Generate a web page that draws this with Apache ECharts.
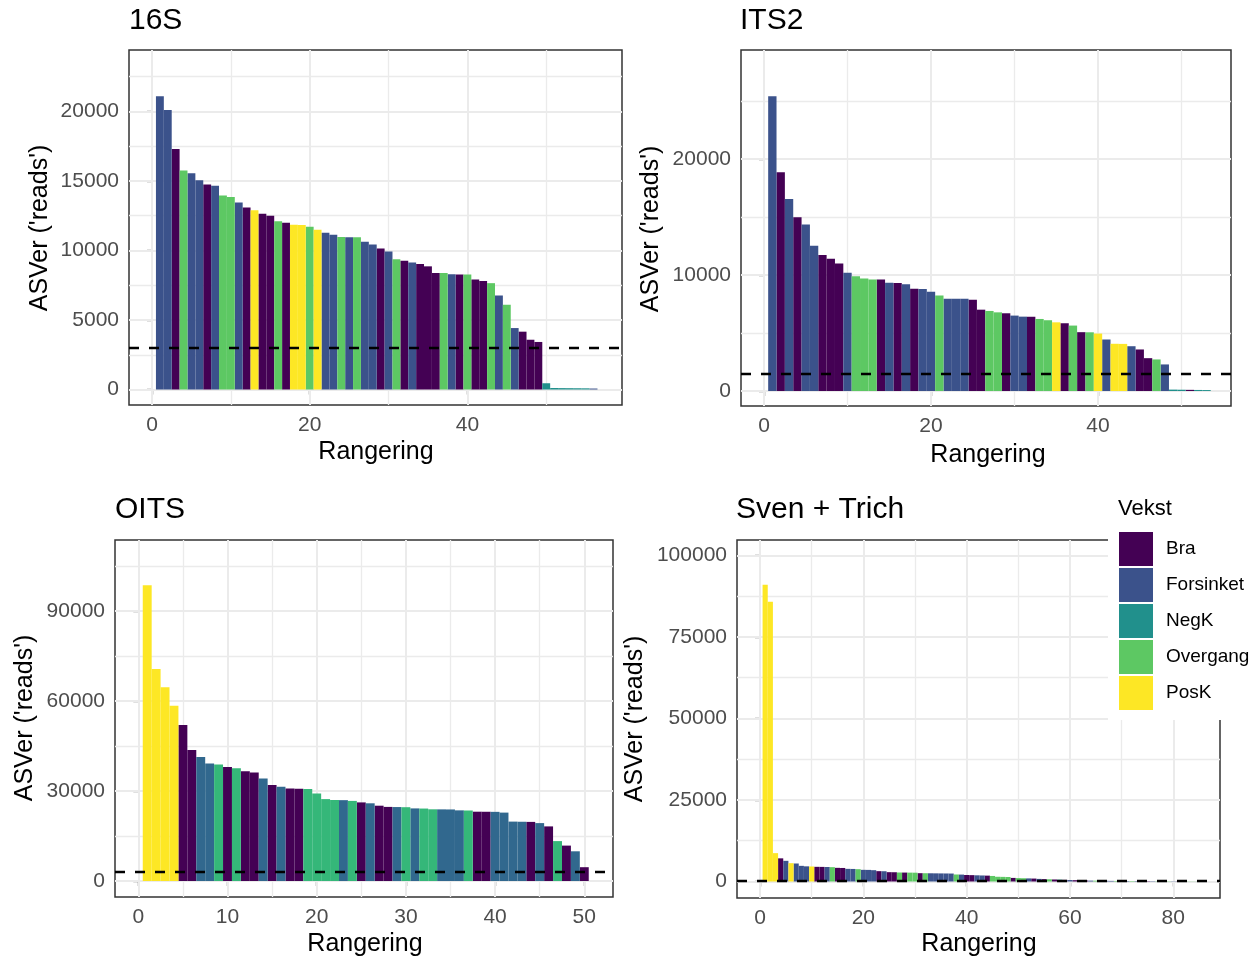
<!DOCTYPE html>
<html><head><meta charset="utf-8">
<script src="https://cdn.jsdelivr.net/npm/echarts@6/dist/echarts.min.js"></script>
<style>html,body{margin:0;padding:0;background:#fff}#c{width:1258px;height:959px}</style>
</head><body><div id="c"></div>
<script>
// ---------- data ----------
const groupNames = ['Bra', 'Forsinket', 'NegK', 'Overgang', 'PosK'];
const groupCodes = ['B', 'F', 'N', 'O', 'P'];
const viridis5 = ['#440154', '#3B528B', '#21908C', '#5DC863', '#FDE725'];
const viridis4 = ['#440154', '#31688E', '#21908C', '#35B779', '#FDE725'];

const s16_values = [21100, 20100, 17300, 15750, 15550, 15050, 14750, 14650, 13950, 13850,
  13450, 13100, 12900, 12650, 12500, 12100, 12000, 11850, 11830, 11700,
  11500, 11280, 11130, 10970, 10960, 10950, 10630, 10430, 10150, 9920,
  9370, 9270, 9130, 9030, 8860, 8390, 8380, 8290, 8280, 8270,
  7910, 7810, 7650, 6760, 6090, 4420, 4160, 3580, 3420, 450,
  110, 100, 95, 90, 85, 70];
const s16_groups = ['F','F','B','O','F','F','B','F','O','O',
  'F','B','P','B','B','O','B','P','P','O',
  'P','F','F','O','F','O','F','F','B','F',
  'O','B','F','B','B','B','O','F','B','O',
  'B','B','O','F','O','F','B','B','B','N',
  'N','N','N','N','N','F'];
const s16_threshold = 3000;
const s16_xTicks = [0, 20, 40];
const s16_xMinor = [10, 30, 50];
const s16_yTicks = [0, 5000, 10000, 15000, 20000];
const s16_yMinor = [2500, 7500, 12500, 17500, 22500];

const its2_values = [25400, 18850, 16540, 14970, 14360, 12530, 11730, 11390, 10990, 10190,
  9900, 9700, 9620, 9610, 9330, 9320, 9210, 8810, 8800, 8560,
  8240, 7960, 7955, 7950, 7870, 7010, 6900, 6780, 6700, 6500,
  6410, 6400, 6210, 6100, 5920, 5840, 5640, 5070, 5060, 4950,
  4440, 4070, 4060, 3860, 3580, 2830, 2720, 2290, 120, 110,
  100, 90, 80];
const its2_groups = ['F','B','F','B','F','F','B','B','B','F',
  'O','O','O','B','F','B','F','B','F','F',
  'O','F','F','F','B','B','O','O','B','F',
  'F','B','O','O','P','B','O','B','O','P',
  'F','P','P','F','B','B','O','F','N','N',
  'B','N','N'];
const its2_threshold = 1500;
const its2_xTicks = [0, 20, 40];
const its2_xMinor = [10, 30, 50];
const its2_yTicks = [0, 10000, 20000];
const its2_yMinor = [5000, 15000, 25000];

const oits_values = [98600, 70700, 64600, 58400, 52000, 43700, 41300, 39200, 38800, 38000,
  37600, 36600, 36200, 34200, 32000, 31400, 30800, 30750, 30700, 29200,
  27300, 27000, 26950, 26700, 26200, 25900, 25100, 24700, 24650, 24600,
  24200, 24150, 23900, 23880, 23850, 23550, 23500, 23100, 23080, 23050,
  22800, 19800, 19750, 19700, 19300, 18200, 13300, 11800, 9900, 4600];
const oits_groups = ['P','P','P','P','B','B','F','F','O','B',
  'O','B','B','F','B','F','B','B','O','O',
  'O','O','F','O','B','F','B','B','F','O',
  'F','O','O','F','F','F','O','B','B','F',
  'F','F','F','B','F','B','O','B','F','B'];
const oits_threshold = 3000;
const oits_xTicks = [0, 10, 20, 30, 40, 50];
const oits_xMinor = [5, 15, 25, 35, 45];
const oits_yTicks = [0, 30000, 60000, 90000];
const oits_yMinor = [15000, 45000, 75000, 105000];

const sven_values = [91000, 85800, 8700, 7100, 6340, 5620, 5520, 4800, 4650, 4600,
  4500, 4480, 4450, 4400, 4190, 4150, 3880, 3850, 3780, 3580,
  3560, 3470, 3170, 3150, 2860, 2840, 2760, 2740, 2720, 2700,
  2550, 2540, 2520, 2500, 2480, 2460, 2440, 2150, 2120, 2000,
  1950, 1900, 1850, 1800, 1700, 1450, 1420, 1380, 1100, 1050,
  1000, 950, 900, 800, 720, 680, 620, 560, 500, 450,
  400, 350, 300, 270, 250, 230, 210, 190, 170, 160,
  150, 140, 130, 120, 110, 100, 90, 85, 80, 70,
  60, 50, 45, 40, 30];
const sven_groups = ['P','P','P','B','F','P','F','F','F','P',
  'B','B','F','O','B','B','F','F','O','F',
  'F','F','B','F','B','B','O','B','O','O',
  'B','O','F','F','F','F','F','O','F','B',
  'B','F','F','B','O','O','O','O','B','O',
  'O','F','B','F','B','O','B','N','B','F',
  'B','B','B','F','O','B','F','F','O','B',
  'F','O','F','B','B','F','O','O','O','F',
  'B','F','O','O','B'];
const sven_threshold = 300;
const sven_xTicks = [0, 20, 40, 60, 80];
const sven_xMinor = [10, 30, 50, 70];
const sven_yTicks = [0, 25000, 50000, 75000, 100000];
const sven_yMinor = [12500, 37500, 62500, 87500];

// ---------- layout ----------
const FONT = '"Liberation Sans", Arial, Helvetica, sans-serif';
const panels = [
  { title: '16S', values: s16_values, groups: s16_groups, threshold: s16_threshold, colors: viridis5,
    xTicks: s16_xTicks, xMinor: s16_xMinor, yTicks: s16_yTicks, yMinor: s16_yMinor,
    grid: { left: 129, top: 50, width: 493, height: 355 }, xRange: [-2.917, 59.61], yRange: [-1115, 24424],
    titlePos: [129, 21], xNamePos: [376, 452], yNamePos: [40, 228] },
  { title: 'ITS2', values: its2_values, groups: its2_groups, threshold: its2_threshold, colors: viridis5,
    xTicks: its2_xTicks, xMinor: its2_xMinor, yTicks: its2_yTicks, yMinor: its2_yMinor,
    grid: { left: 741, top: 50, width: 490, height: 356 }, xRange: [-2.754, 55.93], yRange: [-1293, 29394],
    titlePos: [740, 21], xNamePos: [988, 455], yNamePos: [651, 229] },
  { title: 'OITS', values: oits_values, groups: oits_groups, threshold: oits_threshold, colors: viridis4,
    xTicks: oits_xTicks, xMinor: oits_xMinor, yTicks: oits_yTicks, yMinor: oits_yMinor,
    grid: { left: 115, top: 540, width: 498, height: 357 }, xRange: [-2.612, 53.22], yRange: [-5333, 113667],
    titlePos: [115, 510], xNamePos: [365, 944], yNamePos: [25, 718] },
  { title: 'Sven + Trich', values: sven_values, groups: sven_groups, threshold: sven_threshold, colors: viridis5,
    xTicks: sven_xTicks, xMinor: sven_xMinor, yTicks: sven_yTicks, yMinor: sven_yMinor,
    grid: { left: 737, top: 540, width: 483, height: 358 }, xRange: [-4.452, 89.04], yRange: [-5061, 104738],
    titlePos: [736, 510], xNamePos: [979, 944], yNamePos: [635, 719] }
];

const grids = [], xAxes = [], yAxes = [], series = [], graphics = [];
const tickStyle = { color: '#333333', width: 1.3 };
const labelStyle = { color: '#4D4D4D', fontSize: 21, fontFamily: FONT };

panels.forEach((p, i) => {
  grids.push(Object.assign({ show: true, borderColor: '#333333', borderWidth: 1.5, backgroundColor: '#ffffff' }, p.grid));
  const fmtX = v => (p.xTicks.indexOf(v) >= 0 ? String(v) : '');
  const fmtY = v => (p.yTicks.indexOf(v) >= 0 ? String(v) : '');
  xAxes.push({
    type: 'value', gridIndex: i, min: p.xRange[0], max: p.xRange[1],
    axisLine: { show: false }, splitLine: { show: false },
    axisTick: { show: true, customValues: p.xTicks, length: 5, lineStyle: tickStyle },
    axisLabel: Object.assign({ customValues: p.xTicks, formatter: fmtX, margin: 10 }, labelStyle)
  });
  yAxes.push({
    type: 'value', gridIndex: i, min: p.yRange[0], max: p.yRange[1],
    axisLine: { show: false }, splitLine: { show: false },
    axisTick: { show: true, customValues: p.yTicks, length: 5, lineStyle: tickStyle },
    axisLabel: Object.assign({ customValues: p.yTicks, formatter: fmtY, margin: 10 }, labelStyle)
  });

  // background grid lines (drawn beneath the bars)
  const gl = [];
  p.xTicks.forEach(v => gl.push({ xAxis: v, lineStyle: { width: 2 } }));
  p.xMinor.forEach(v => gl.push({ xAxis: v, lineStyle: { width: 1.3 } }));
  p.yTicks.forEach(v => gl.push({ yAxis: v, lineStyle: { width: 2 } }));
  p.yMinor.forEach(v => gl.push({ yAxis: v, lineStyle: { width: 1.3 } }));
  series.push({
    type: 'line', name: 'grid' + i, xAxisIndex: i, yAxisIndex: i, data: [], silent: true,
    markLine: { z: 1, silent: true, symbol: 'none', animation: false, label: { show: false },
      emphasis: { disabled: true },
      lineStyle: { color: '#EBEBEB', type: 'solid', width: 2 }, data: gl }
  });

  // bars, one series per group
  groupCodes.forEach((code, g) => {
    const data = [];
    p.values.forEach((v, k) => { if (p.groups[k] === code) data.push([k + 1, v]); });
    if (!data.length) return;
    series.push({
      type: 'bar', name: groupNames[g], xAxisIndex: i, yAxisIndex: i, data: data,
      barGap: '-100%', barCategoryGap: '0%', z: 2,
      itemStyle: { color: p.colors[g] }, emphasis: { disabled: true }
    });
  });

  // threshold dashed line
  series.push({
    type: 'line', name: 'thr' + i, xAxisIndex: i, yAxisIndex: i, data: [], silent: true,
    markLine: { z: 5, silent: true, symbol: 'none', animation: false, label: { show: false },
      emphasis: { disabled: true },
      lineStyle: { color: '#000000', type: [10, 10], width: 2.4 }, data: [{ yAxis: p.threshold }] }
  });

  graphics.push({ type: 'text', x: p.titlePos[0], y: p.titlePos[1], z: 10,
    style: { text: p.title, fill: '#000', font: '30px ' + FONT, align: 'left', verticalAlign: 'middle', textAlign: 'left', textVerticalAlign: 'middle' } });
  graphics.push({ type: 'text', x: p.xNamePos[0], y: p.xNamePos[1], z: 10,
    style: { text: 'Rangering', fill: '#000', font: '25px ' + FONT, align: 'center', verticalAlign: 'middle', textAlign: 'center', textVerticalAlign: 'middle' } });
  graphics.push({ type: 'text', x: p.yNamePos[0], y: p.yNamePos[1], rotation: Math.PI / 2, z: 10,
    style: { text: "ASVer ('reads')", fill: '#000', font: '25px ' + FONT, align: 'center', verticalAlign: 'middle', textAlign: 'center', textVerticalAlign: 'middle' } });
});

graphics.push({ type: 'text', x: 1118, y: 509, z: 100,
  style: { text: 'Vekst', fill: '#000', font: '22px ' + FONT, align: 'left', verticalAlign: 'middle', textAlign: 'left', textVerticalAlign: 'middle' } });

const chart = echarts.init(document.getElementById('c'), null, { renderer: 'canvas' });
chart.setOption({
  animation: false,
  backgroundColor: '#ffffff',
  grid: grids, xAxis: xAxes, yAxis: yAxes, series: series,
  legend: {
    data: groupNames, orient: 'vertical', left: 1108, top: 490,
    padding: [42, 40, 10, 11], backgroundColor: '#ffffff',
    itemWidth: 34, itemHeight: 34, itemGap: 2, icon: 'rect', selectedMode: false,
    textStyle: { fontSize: 19, color: '#000', fontFamily: FONT, padding: [0, 0, 0, 8] }
  },
  graphic: { elements: graphics }
});
</script></body></html>
